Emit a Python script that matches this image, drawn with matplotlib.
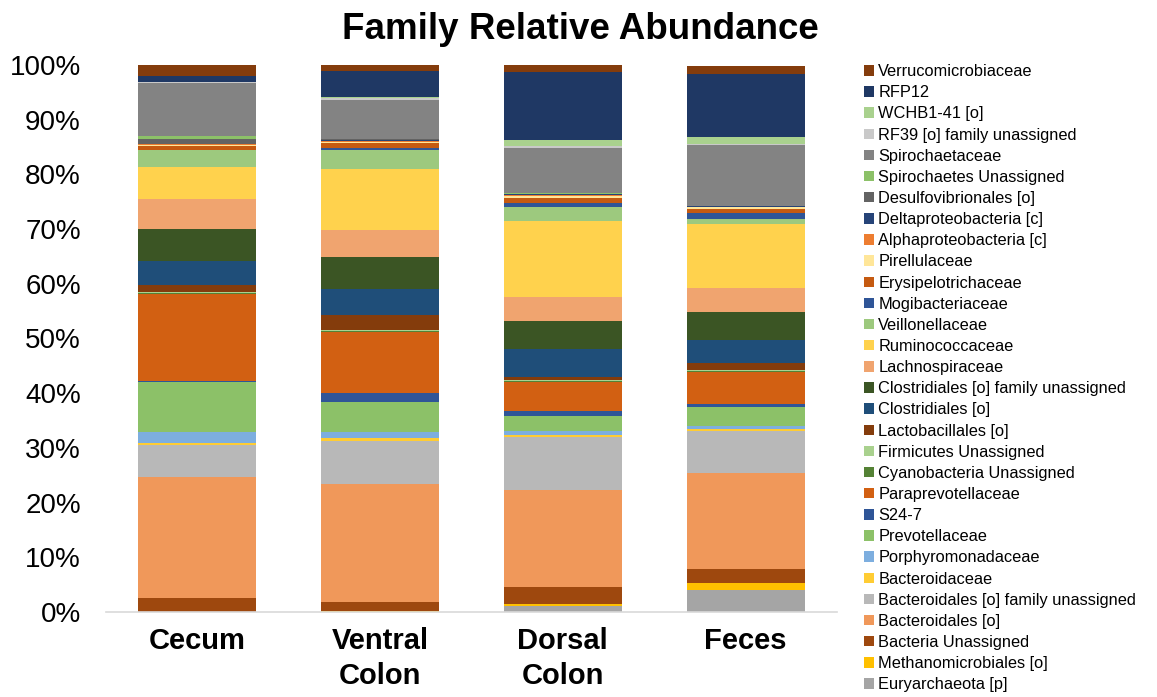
import matplotlib.pyplot as plt
import numpy as np
from matplotlib.ticker import PercentFormatter

plt.rcParams["font.family"] = ["Liberation Sans", "DejaVu Sans"]

SITES = ["Cecum", "Ventral\nColon", "Dorsal\nColon", "Feces"]

# stacked bottom -> top
TAXA = [
    "Euryarchaeota [p]", "Methanomicrobiales [o]", "Bacteria Unassigned",
    "Bacteroidales [o]", "Bacteroidales [o] family unassigned", "Bacteroidaceae",
    "Porphyromonadaceae", "Prevotellaceae", "S24-7", "Paraprevotellaceae",
    "Cyanobacteria Unassigned", "Firmicutes Unassigned", "Lactobacillales [o]",
    "Clostridiales [o]", "Clostridiales [o] family unassigned", "Lachnospiraceae",
    "Ruminococcaceae", "Veillonellaceae", "Mogibacteriaceae", "Erysipelotrichaceae",
    "Pirellulaceae", "Alphaproteobacteria [c]", "Deltaproteobacteria [c]",
    "Desulfovibrionales [o]", "Spirochaetes Unassigned", "Spirochaetaceae",
    "RF39 [o] family unassigned", "WCHB1-41 [o]", "RFP12", "Verrucomicrobiaceae",
]

COLORS = [
    "#A5A5A5", "#FFC000", "#9E480E",
    "#F0985A", "#B8B8B8", "#FFCC33",
    "#7DAEDF", "#8CC168", "#2F5597", "#D26012",
    "#548235", "#A9D18E", "#843C0C",
    "#1F4E79", "#3B5524", "#F0A46F",
    "#FFD24D", "#9DC97E", "#2F5597", "#C55A11",
    "#FFE699", "#ED7D31", "#264478",
    "#636363", "#8CC168", "#838383",
    "#C9C9C9", "#A9D18E", "#1F3864", "#843C0C",
]

# percent abundance per site, same order as TAXA
CECUM = [0.0, 0.05, 2.45, 22.1, 5.9, 0.37, 1.95, 9.15, 0.3, 15.9,
         0.1, 0.2, 1.35, 4.4, 5.7, 5.5, 5.85, 3.1, 0.1, 0.8,
         0.1, 0.1, 0.1, 0.85, 0.6, 9.6, 0.3, 0.05, 1.0, 2.2]
VENTRAL = [0.0, 0.1, 1.8, 21.5, 7.8, 0.6, 1.1, 5.4, 1.65, 11.3,
           0.05, 0.2, 2.7, 4.9, 5.85, 4.9, 11.15, 3.5, 0.3, 0.85,
           0.2, 0.25, 0.25, 0.1, 0.1, 7.1, 0.35, 0.15, 4.7, 1.2]
DORSAL = [1.1, 0.4, 3.05, 17.7, 9.75, 0.3, 0.75, 2.85, 0.85, 5.3,
          0.2, 0.1, 0.55, 5.25, 5.1, 4.4, 13.9, 2.5, 0.8, 0.85,
          0.3, 0.25, 0.1, 0.1, 0.1, 8.35, 0.3, 1.15, 12.4, 1.3]
FECES = [4.0, 1.3, 2.55, 17.55, 7.7, 0.3, 0.67, 3.4, 0.6, 5.85,
         0.1, 0.25, 1.3, 4.1, 5.1, 4.4, 11.8, 0.9, 1.0, 0.73,
         0.35, 0.1, 0.1, 0.1, 0.05, 11.0, 0.3, 1.15, 11.6, 1.5]


def main():
    data = np.array([CECUM, VENTRAL, DORSAL, FECES]).T / 100.0
    x = np.arange(len(SITES))

    fig = plt.figure(figsize=(11.57, 6.97), dpi=100)
    ax = fig.add_axes([0.0916, 0.122, 0.6318, 0.7848])

    bottom = np.zeros(len(SITES))
    handles = []
    for name, color, vals in zip(TAXA, COLORS, data):
        h = ax.bar(x, vals, width=0.645, bottom=bottom, color=color,
                   label=name, linewidth=0)
        handles.append(h)
        bottom += vals

    ax.set_xlim(-0.5, len(SITES) - 0.5)
    ax.set_ylim(0, 1.0)
    ax.set_yticks(np.arange(0, 1.01, 0.1))
    ax.yaxis.set_major_formatter(PercentFormatter(1.0, decimals=0))
    ax.set_xticks(x)
    ax.set_xticklabels(SITES, fontsize=21, fontweight="bold", linespacing=1.3)
    ax.tick_params(axis="y", length=0, labelsize=20, pad=18)
    ax.tick_params(axis="x", length=0, pad=11)
    for side in ("top", "right", "left"):
        ax.spines[side].set_visible(False)
    ax.spines["bottom"].set_color("#D9D9D9")
    ax.spines["bottom"].set_linewidth(1.2)

    fig.suptitle("Family Relative Abundance", fontsize=26.5, fontweight="bold",
                 x=0.502, y=0.983)

    fig.legend(handles[::-1], TAXA[::-1], loc="upper left",
               bbox_to_anchor=(0.747, 0.908), frameon=False, fontsize=11.8,
               handlelength=0.6, handleheight=0.6, handletextpad=0.25,
               labelspacing=0.375, borderpad=0, borderaxespad=0)

    fig.savefig("out.png", dpi=100)
    plt.close(fig)


if __name__ == "__main__":
    main()
